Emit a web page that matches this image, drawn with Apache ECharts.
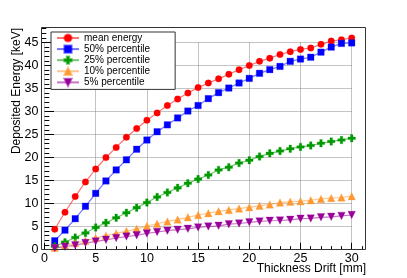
<!DOCTYPE html>
<html><head><meta charset="utf-8">
<script src="https://cdn.jsdelivr.net/npm/echarts@6/dist/echarts.min.js"></script>
<style>html,body{margin:0;padding:0;background:#fff}#c{width:407px;height:278px}</style>
</head><body><div id="c"></div>
<script>
const thickness = [1,2,3,4,5,6,7,8,9,10,11,12,13,14,15,16,17,18,19,20,21,22,23,24,25,26,27,28,29,30];
const meanEnergy = [4.4,8.1,11.5,14.7,17.5,20.0,22.2,24.4,26.3,28.1,29.7,31.3,32.7,34.0,35.2,36.2,37.1,38.1,39.1,40.0,40.9,41.6,42.4,43.0,43.5,43.8,44.6,45.3,45.6,46.0];
const p50 = [1.9,4.2,6.7,9.4,12.2,14.9,17.3,19.5,21.8,23.8,25.6,27.1,28.6,30.1,31.3,32.8,34.1,35.1,36.2,37.2,38.3,39.1,39.8,40.9,41.4,41.8,42.9,44.0,44.8,44.9];
const p25 = [0.7,1.6,2.6,3.6,4.8,5.8,6.9,8.0,9.1,10.2,11.4,12.4,13.4,14.4,15.3,16.2,17.3,17.9,18.8,19.4,20.2,20.9,21.4,21.9,22.3,22.6,23.1,23.5,23.8,24.2];
const p10 = [0.4,0.9,1.4,1.9,2.5,3.0,3.5,4.0,4.5,5.1,5.6,6.1,6.5,7.0,7.5,7.9,8.3,8.6,8.9,9.2,9.5,9.8,10.2,10.4,10.5,10.7,11.0,11.2,11.3,11.6];
const p5 = [0.3,0.6,0.95,1.4,1.75,2.1,2.5,2.8,3.1,3.5,3.8,4.1,4.3,4.5,4.8,5.0,5.15,5.5,5.65,5.9,6.1,6.25,6.3,6.45,6.7,6.75,7.0,7.1,7.3,7.5];
const seriesNames = ['mean energy','50% percentile','25% percentile','10% percentile','5% percentile'];
const xTickLabels = [0,5,10,15,20,25,30];
const yTickLabels = [0,5,10,15,20,25,30,35,40,45];
const xTitle = 'Thickness Drift [mm]';
const yTitle = 'Deposited Energy [keV]';

const FONT = 'Liberation Sans, Arial, Helvetica, sans-serif';
const chart = echarts.init(document.getElementById('c'), null, {renderer:'canvas'});
const PLUS = 'path://M3.3,0 H6.7 V3.3 H10 V6.7 H6.7 V10 H3.3 V6.7 H0 V3.3 H3.3 Z';
const TRI_DOWN = 'path://M0,0 L10,0 L5,9 Z';
const TRI_UP = 'path://M5,0 L10,9 L0,9 Z';
const styles = [
  {color:'#ff0000', line:'rgba(255,0,0,0.55)', symbol:'circle', size:6.5},
  {color:'#0000ff', line:'rgba(0,0,255,0.55)', symbol:'rect', size:6.5},
  {color:'#009a00', line:'rgba(0,154,0,0.55)', symbol:PLUS, size:7.5},
  {color:'#ff9933', line:'rgba(255,153,51,0.55)', symbol:TRI_UP, size:7.5},
  {color:'#990099', line:'rgba(153,0,153,0.55)', symbol:TRI_DOWN, size:7.5}
];
const values = [meanEnergy, p50, p25, p10, p5];

const series = values.map((arr, k) => ({
  name: seriesNames[k], type:'line', xAxisIndex:0, yAxisIndex:0, clip:false,
  data: thickness.map((x,i)=>[x, arr[i]]),
  symbol: styles[k].symbol, symbolSize: styles[k].size, showSymbol:true,
  itemStyle:{color:styles[k].color, borderColor:styles[k].line, borderWidth:0.5},
  lineStyle:{color:styles[k].line, width:1.2},
  emphasis:{disabled:true}
}));

const x0 = 44.5, pxX = 10.24, y0 = 249.5, pxY = 4.6;
const xmax = xTickLabels[xTickLabels.length-1], ymax = yTickLabels[yTickLabels.length-1];
chart.setOption({
  animation:false,
  backgroundColor:'#fff',
  textStyle:{fontFamily:FONT},
  grid:[
    {left:x0, top:y0 - ymax*pxY, width:xmax*pxX, height:ymax*pxY},
    {left:x0 + xmax*pxX, top:y0 - 48*pxY, width:1*pxX, height:3*pxY}
  ],
  xAxis:[
    {gridIndex:0, type:'value', min:xTickLabels[0], max:xmax, interval:xTickLabels[1]-xTickLabels[0],
     axisLine:{show:false},
     axisTick:{show:true, inside:true, length:6.7, lineStyle:{color:'#000', width:1}},
     minorTick:{show:true, splitNumber:5, length:3.3, lineStyle:{color:'#000', width:1}},
     splitLine:{show:true, lineStyle:{color:'#888', type:'dotted', width:1}},
     axisLabel:{fontSize:12.5, color:'#000', margin:3, fontFamily:FONT}},
    {gridIndex:1, type:'value', min:30, max:31, interval:1, offset:y0-(y0-45*pxY),
     axisLine:{show:false}, axisTick:{show:true, inside:true, length:3.3, lineStyle:{color:'#000'}},
     axisLabel:{show:false}, splitLine:{show:false}}
  ],
  yAxis:[
    {gridIndex:0, type:'value', min:yTickLabels[0], max:ymax, interval:yTickLabels[1]-yTickLabels[0], offset:3,
     axisLine:{show:false},
     axisTick:{show:true, inside:true, length:9.5, lineStyle:{color:'#000', width:1}},
     minorTick:{show:true, splitNumber:5, length:4.8, lineStyle:{color:'#000', width:1}},
     splitLine:{show:true, lineStyle:{color:'#888', type:'dotted', width:1}},
     axisLabel:{fontSize:12.5, color:'#000', margin:3, fontFamily:FONT}},
    {gridIndex:1, type:'value', min:45, max:48, interval:1, offset:xmax*pxX + 3,
     axisLine:{show:false}, axisTick:{show:true, inside:true, length:4.8, lineStyle:{color:'#000'}},
     axisLabel:{show:false}, splitLine:{show:false}}
  ],
  legend:{
    left:51, top:32, orient:'vertical', itemWidth:22, itemHeight:9, itemGap:1.1,
    padding:[1,25,2,5], backgroundColor:'#fff', borderColor:'#333', borderWidth:1,
    textStyle:{fontSize:10, color:'#000', fontFamily:FONT},
    data: seriesNames, selectedMode:false
  },
  graphic:[
    {type:'rect', z:100, silent:true, shape:{x:41.5, y:27.5, width:324, height:222}, style:{fill:'none', stroke:'#333', lineWidth:1}},
    {type:'text', silent:true, x:366, y:269, style:{text:xTitle, fontSize:12, fontFamily:FONT, fill:'#000', align:'right', verticalAlign:'middle'}},
    {type:'text', silent:true, x:17, y:28, rotation:Math.PI/2, style:{text:yTitle, fontSize:12, fontFamily:FONT, fill:'#000', align:'right', verticalAlign:'middle'}}
  ],
  series: series
});
</script></body></html>
